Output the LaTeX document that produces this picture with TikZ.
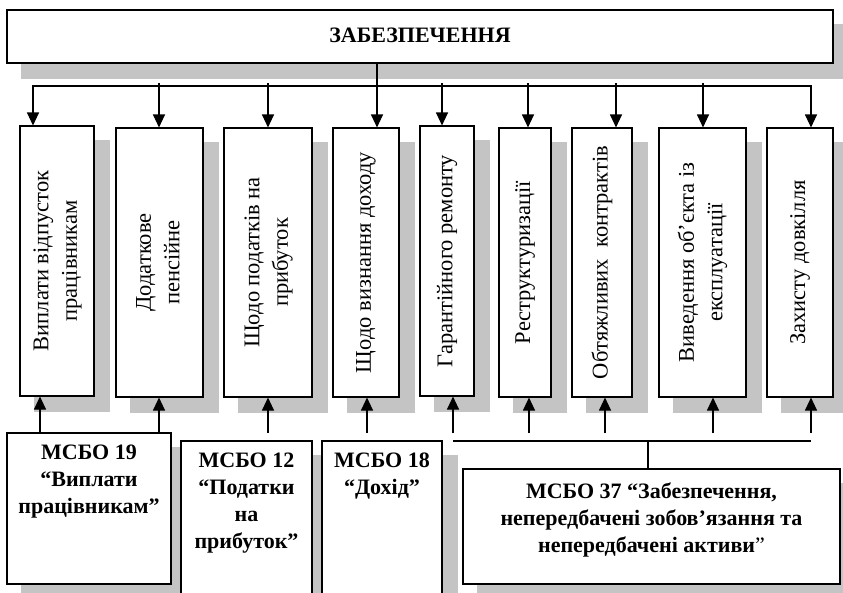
\documentclass[tikz,border=0pt]{standalone}
\usepackage{graphicx}
\usepackage{fontspec}
\setmainfont{Liberation Serif}
\usetikzlibrary{arrows.meta,backgrounds}
\definecolor{shadowgray}{RGB}{196,196,196}
\begin{document}
\begin{tikzpicture}[x=1pt,y=-1pt,
  bx/.style={draw=black, line width=1.1pt, fill=white, inner sep=0pt},
  vbx/.style={bx, font=\fontsize{22.5}{28.5}\selectfont},
  mtxt/.style={font=\fontsize{22}{27}\selectfont\bfseries, align=center, inner sep=0pt, anchor=north},
  arr/.style={line width=1.1pt, -{Triangle[width=12pt,length=13pt]}},
  ln/.style={line width=1.1pt},
  shd/.style={fill=shadowgray}]
\useasboundingbox (0,0) rectangle (843,592);

% top box
\node[bx, minimum width=826pt, minimum height=53pt, font=\fontsize{22}{27}\selectfont\bfseries] (top) at (420,36.5) {\raisebox{3pt}{ЗАБЕЗПЕЧЕННЯ}};

% vertical boxes
\node[vbx, minimum width=74pt, minimum height=270pt] (b1) at (57,261)
  {\rotatebox{90}{\begin{tabular}{@{}c@{}}Виплати відпусток\\працівникам\end{tabular}}};
\node[vbx, minimum width=87pt, minimum height=269pt] (b2) at (159.5,262.5)
  {\rotatebox{90}{\begin{tabular}{@{}c@{}}Додаткове\\пенсійне\end{tabular}}};
\node[vbx, minimum width=88pt, minimum height=269pt] (b3) at (268,262.5)
  {\rotatebox{90}{\begin{tabular}{@{}c@{}}Щодо податків на\\прибуток\end{tabular}}};
\node[vbx, minimum width=66pt, minimum height=269pt] (b4) at (366,262.5)
  {\rotatebox{90}{Щодо визнання доходу}};
\node[vbx, minimum width=54pt, minimum height=270pt] (b5) at (447,261)
  {\rotatebox{90}{Гарантійного ремонту}};
\node[vbx, minimum width=52pt, minimum height=269pt] (b6) at (525,262.5)
  {\rotatebox{90}{Реструктуризації}};
\node[vbx, minimum width=60pt, minimum height=269pt] (b7) at (602,262.5)
  {\rotatebox{90}{Обтяжливих\ \ контрактів}};
\node[vbx, minimum width=87pt, minimum height=269pt] (b8) at (702.5,262.5)
  {\rotatebox{90}{\begin{tabular}{@{}c@{}}Виведення об’єкта із\\експлуатації\end{tabular}}};
\node[vbx, minimum width=66pt, minimum height=269pt] (b9) at (800,262.5)
  {\rotatebox{90}{Захисту довкілля}};

% bottom boxes
\node[bx, minimum width=164pt, minimum height=151pt] (m19) at (89,508.5) {};
\node[mtxt] (t19) at ([yshift=-12pt]m19.north) {МСБО 19\\“Виплати\\працівникам”};
\node[bx, minimum width=131pt, minimum height=159pt] (m12) at (246.5,520.5) {};
\node[mtxt] (t12) at ([yshift=-12pt]m12.north) {МСБО 12\\“Податки\\на\\прибуток”};
\node[bx, minimum width=120pt, minimum height=159pt] (m18) at (382,520.5) {};
\node[mtxt] (t18) at ([yshift=-12pt]m18.north) {МСБО 18\\“Дохід”};
\node[bx, minimum width=377pt, minimum height=115pt] (m37) at (651.5,526.5) {};
\node[mtxt] (t37) at ([yshift=-14pt]m37.north) {МСБО 37 “Забезпечення,\\непередбачені зобов’язання та\\непередбачені активи{\mdseries ”}};

% shadows
\begin{pgfonlayer}{background}
  \fill[shd] ([shift={(15,15)}]top.north west) rectangle ([shift={(15,15)}]top.south east);
  \foreach \n in {b1,b2,b3,b4,b5,b6,b7,b8,b9,m19,m12,m18,m37}
    \fill[shd] ([shift={(15,15)}]\n.north west) rectangle ([shift={(15,15)}]\n.south east);
\end{pgfonlayer}

% top bus
\coordinate (t1) at (33,86);
\coordinate (t9) at (811,86);
\coordinate (t4) at (377,86);
\coordinate (t2) at (159,83);
\coordinate (t3) at (268,83);
\coordinate (t5) at (442,83);
\coordinate (t6) at (528,83);
\coordinate (t7) at (616,83);
\coordinate (t8) at (703,83);
\draw[ln] (t1) -- (t9);
\draw[arr] (t9) -- (t1) -- (t1 |- b1.north);
\draw[arr] (t1) -- (t9) -- (t9 |- b9.north);
\draw[arr] (t4 |- top.south) -- (t4 |- b4.north);
\foreach \i in {2,3,5,6,7,8}
  \draw[arr] (t\i) -- (t\i |- b\i.north);

% bottom connections
\coordinate (u1) at (40,433);
\coordinate (u2) at (159,433);
\coordinate (u3) at (268,433);
\coordinate (u4) at (367,433);
\coordinate (u5) at (453,433);
\coordinate (u6) at (529,433);
\coordinate (u7) at (605,433);
\coordinate (u8) at (713,433);
\coordinate (u9) at (811,433);
\foreach \i in {1,...,9}
  \draw[arr] (u\i) -- (u\i |- b\i.south);
\coordinate (w1) at (453,441);
\coordinate (w2) at (811,441);
\coordinate (w0) at (648,441);
\draw[ln] (w1) -- (w2);
\draw[ln] (w0) -- (w0 |- m37.north);
\end{tikzpicture}
\end{document}
